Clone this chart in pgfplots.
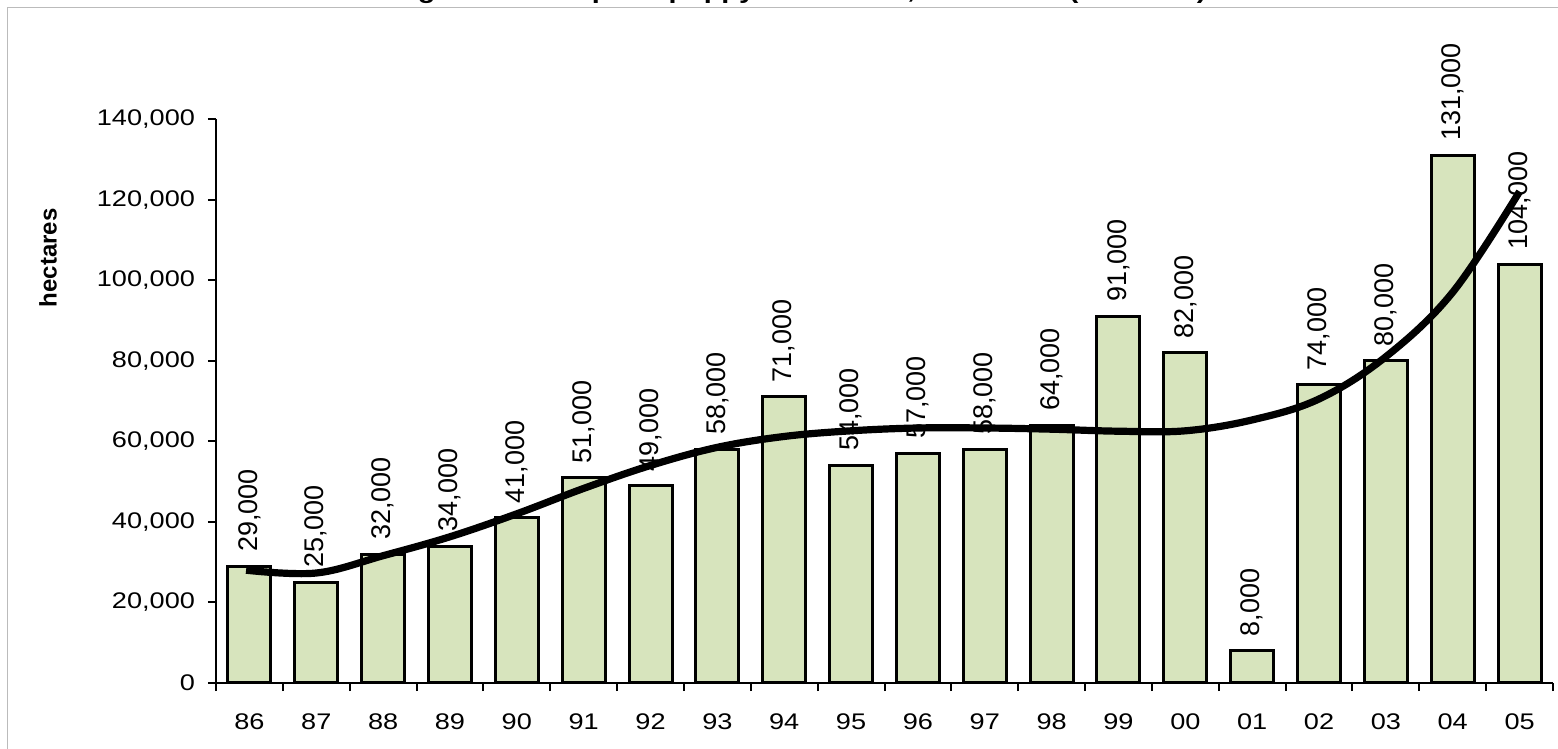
\documentclass[border=0pt]{standalone}
\usepackage{fontspec}
\setmainfont{Liberation Sans}[FakeStretch=1.2]
\newfontfamily\plainfont{Liberation Sans}
\usepackage{pgfplots}
\pgfplotsset{compat=1.18}
\definecolor{barfill}{HTML}{D7E4BD}
\definecolor{framegray}{HTML}{BBBBBB}
\begin{document}
\begin{tikzpicture}
\begin{axis}[
  at={(0pt,0pt)}, anchor=south west,
  scale only axis,
  width=668.5pt, height=282pt,
  xmin=-0.5, xmax=19.5,
  ymin=0, ymax=140000,
  axis lines*=left,
  axis line style={black, line width=1pt},
  xtick={0,...,19},
  xticklabels={86,87,88,89,90,91,92,93,94,95,96,97,98,99,00,01,02,03,04,05},
  major x tick style={draw=none},
  minor xtick={-0.5,0.5,...,19.5},
  ytick={0,20000,...,140000},
  tick align=outside,
  major tick length=4pt, minor tick length=4pt,
  tick style={black, line width=1pt},
  scaled y ticks=false,
  /pgf/number format/.cd, fixed, 1000 sep={,}, assume math mode=true,
  /pgfplots/.cd,
  yticklabel style={font=\fontsize{11.3}{13}\selectfont, xshift=-3pt},
  xticklabel style={font=\fontsize{11.3}{13}\selectfont, yshift=-8pt},
  ylabel={\plainfont\bfseries hectares},
  ylabel style={at={(axis description cs:-0.1257,0.754)}, anchor=center, rotate=0, font=\fontsize{12}{14}\selectfont},
  bar width=21.5pt,
  clip=false,
]
\addplot[ybar, fill=barfill, draw=black, line width=1.5pt,
  nodes near coords,
  every node near coord/.append style={rotate=90, anchor=west, font=\plainfont\fontsize{13.5}{15}\selectfont, black, inner sep=0pt, xshift=6.5pt},
] coordinates {
(0,29000) (1,25000) (2,32000) (3,34000) (4,41000) (5,51000) (6,49000) (7,58000) (8,71000) (9,54000)
(10,57000) (11,58000) (12,64000) (13,91000) (14,82000) (15,8000) (16,74000) (17,80000) (18,131000) (19,104000)
};
\addplot[black, line width=3.6pt, smooth, tension=0.6, no marks] coordinates {
(-0.05,28000) (1,27300) (2,31600) (3,36300) (4,42000) (5,48300) (6,54000) (7,58500) (8,61200) (9,62600)
(10,63300) (11,63300) (12,63000) (13,62500) (14,62600) (15,65300) (16,70500) (17,81000) (18,97000) (19,122000)
};
\end{axis}
\draw[framegray, line width=0.5pt] (-104pt,-40pt) -- (-104pt,337.5pt) -- (680pt,337.5pt);
\node[anchor=base, font=\bfseries\fontsize{12}{14}\selectfont, inner sep=0pt] at (290.5pt,342pt) {Afghanistan: opium poppy cultivation, 1986-2005 (hectares)};
\pgfresetboundingbox
\path[use as bounding box] (-108pt,-33pt) rectangle (671pt,341.5pt);
\end{tikzpicture}
\end{document}
